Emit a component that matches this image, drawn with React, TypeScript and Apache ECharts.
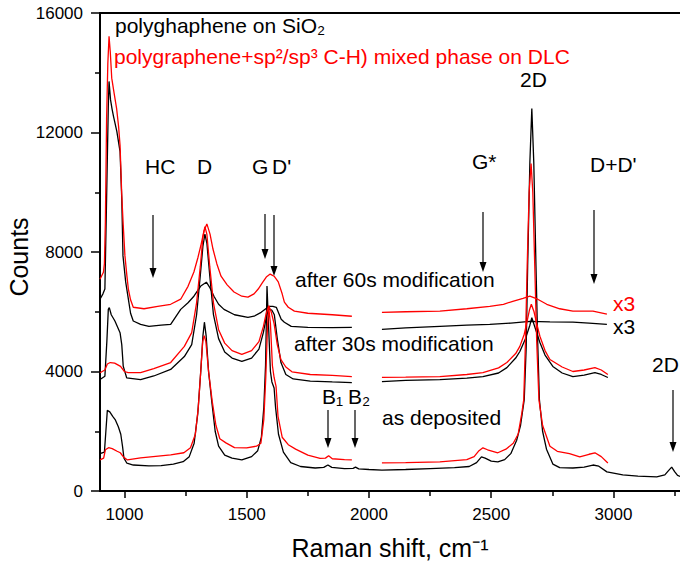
import React, { useEffect, useRef } from 'react';
import * as echarts from 'echarts';

const FONT = '"Liberation Sans", Arial, Helvetica, sans-serif';

const xTicks = [1000, 1500, 2000, 2500, 3000];
const xMinorTicks = [1250, 1750, 2250, 2750, 3250];
const yTicks = [0, 4000, 8000, 12000, 16000];

// as deposited, polygraphene on SiO2 (black, continuous)
const asDepBlack = [
  [900, 1250], [918, 1300], [924, 2000], [930, 2700], [940, 2650], [952, 2500], [962, 2390], [975, 2150],
  [985, 1900], [992, 1500], [998, 1100], [1010, 930], [1036, 870], [1100, 840], [1150, 850], [1200, 900],
  [1240, 980], [1265, 1150], [1285, 1600], [1300, 2600], [1312, 4000], [1321, 5200], [1327, 5650], [1334, 5200],
  [1344, 4000], [1357, 3000], [1371, 2000], [1385, 1500], [1410, 1200], [1440, 1100], [1480, 1040], [1520, 1150],
  [1545, 1350], [1560, 1800], [1570, 2800], [1577, 4200], [1583, 6860], [1590, 5400], [1597, 4000], [1603, 3650],
  [1612, 3450], [1618, 2800], [1630, 1900], [1650, 1300], [1680, 950], [1720, 820], [1780, 770], [1815, 790],
  [1832, 870], [1848, 790], [1900, 750], [1935, 760], [1945, 800], [1958, 740], [2000, 720], [2053, 700],
  [2150, 720], [2250, 750], [2350, 780], [2410, 820], [2440, 950], [2460, 1140], [2475, 1100], [2500, 1000],
  [2527, 975], [2555, 1050], [2580, 1250], [2604, 1700], [2620, 2200], [2635, 3060], [2643, 4800], [2649, 7530],
  [2658, 11000], [2666, 12800], [2674, 11000], [2683, 7530], [2690, 5000], [2697, 3060], [2710, 2000], [2726, 1400],
  [2752, 900], [2780, 780], [2834, 770], [2880, 800], [2916, 870], [2940, 830], [2973, 640], [3038, 540],
  [3100, 500], [3177, 470], [3210, 540], [3225, 680], [3238, 800], [3250, 650], [3262, 520], [3275, 480],
];

// as deposited, mixed phase on DLC (red)
const asDepRedLow = [
  [900, 1040], [915, 1100], [922, 1380], [935, 1450], [950, 1420], [970, 1330], [983, 1280], [995, 1150],
  [1012, 1040], [1066, 1110], [1189, 1210], [1243, 1280], [1270, 1450], [1290, 1900], [1302, 2800], [1312, 4000],
  [1320, 5000], [1326, 5200], [1333, 5000], [1344, 4000], [1359, 3000], [1374, 2200], [1390, 1750], [1415, 1610],
  [1450, 1450], [1500, 1445], [1540, 1500], [1558, 1600], [1570, 2400], [1578, 3800], [1585, 5500], [1590, 6150],
  [1597, 5600], [1605, 4200], [1612, 3800], [1620, 3500], [1628, 2500], [1645, 1800], [1670, 1550], [1700, 1400],
  [1750, 1200], [1800, 1090], [1822, 1100], [1835, 1180], [1850, 1080], [1900, 1050], [1930, 1040],
];
const asDepRedHigh = [
  [2053, 940], [2150, 950], [2290, 975], [2400, 1050], [2430, 1150], [2450, 1350], [2466, 1445], [2485, 1380],
  [2527, 1280], [2560, 1400], [2590, 1600], [2610, 1900], [2625, 2600], [2633, 3060], [2640, 5000], [2647, 7530],
  [2655, 10000], [2663, 10960], [2670, 10000], [2678, 7530], [2686, 5000], [2695, 3060], [2710, 2200], [2740, 1500],
  [2770, 1330], [2820, 1250], [2862, 1140], [2900, 1230], [2924, 1280], [2950, 1150], [2977, 940],
];

// after 30 s modification
const m30BlackLow = [
  [900, 3730], [920, 3840], [928, 5000], [934, 6080], [938, 6140], [946, 5900], [961, 5690], [982, 5300],
  [989, 4900], [995, 4180], [1009, 3790], [1066, 3730], [1120, 3850], [1189, 4070], [1245, 4500], [1275, 4900],
  [1295, 5900], [1310, 7200], [1321, 8200], [1329, 8600], [1337, 8300], [1349, 7200], [1364, 5900], [1385, 5100],
  [1410, 4650], [1440, 4450], [1480, 4340], [1520, 4450], [1550, 4750], [1568, 5300], [1582, 5900], [1592, 6100],
  [1603, 6050], [1613, 5900], [1625, 5100], [1640, 4300], [1660, 3900], [1690, 3750], [1760, 3680], [1850, 3650],
  [1930, 3630],
];
const m30BlackHigh = [
  [2053, 3660], [2150, 3700], [2290, 3730], [2400, 3780], [2466, 3830], [2530, 3950], [2564, 4130], [2600, 4450],
  [2617, 4670], [2640, 5100], [2658, 5550], [2666, 5800], [2680, 5450], [2699, 4970], [2720, 4550], [2752, 4170],
  [2790, 3950], [2834, 3830], [2880, 3880], [2924, 3960], [2950, 3900], [2977, 3800],
];
const m30RedLow = [
  [900, 3960], [920, 4050], [930, 4250], [942, 4300], [960, 4280], [984, 4170], [1000, 4000], [1015, 3960],
  [1066, 3960], [1120, 4100], [1189, 4300], [1245, 4840], [1275, 5300], [1295, 6300], [1310, 7500], [1321, 8500],
  [1329, 8850], [1337, 8600], [1349, 7500], [1364, 6300], [1385, 5400], [1410, 4950], [1440, 4700], [1480, 4570],
  [1520, 4700], [1550, 5000], [1568, 5500], [1580, 5950], [1590, 6200], [1600, 6000], [1612, 5600], [1625, 4900],
  [1640, 4400], [1660, 4150], [1685, 3990], [1760, 3900], [1850, 3870], [1930, 3830],
];
const m30RedHigh = [
  [2053, 3800], [2150, 3810], [2290, 3830], [2400, 3900], [2466, 3960], [2530, 4120], [2564, 4300], [2600, 4600],
  [2617, 4840], [2635, 5250], [2646, 5650], [2656, 6050], [2664, 6250], [2675, 6000], [2686, 5600], [2699, 5180],
  [2720, 4700], [2740, 4400], [2790, 4150], [2834, 4000], [2880, 4050], [2924, 4130], [2950, 4050], [2977, 3900],
];

// after 60 s modification
const m60BlackLow = [
  [900, 6420], [912, 6600], [920, 6760], [927, 9780], [934, 12900], [937, 13710], [943, 13100], [949, 12800],
  [955, 12550], [969, 12030], [982, 11360], [989, 9780], [994, 7870], [1005, 7000], [1016, 6420], [1025, 5950],
  [1036, 5690], [1066, 5580], [1100, 5510], [1150, 5550], [1189, 5580], [1230, 6080], [1260, 6300], [1284, 6520],
  [1312, 6860], [1335, 6990], [1350, 6800], [1366, 6520], [1385, 6250], [1407, 6080], [1450, 5900], [1505, 5815],
  [1530, 5850], [1559, 5980], [1578, 6100], [1592, 6180], [1607, 6180], [1621, 6150], [1641, 5750], [1654, 5650],
  [1682, 5510], [1750, 5480], [1850, 5470], [1930, 5480],
];
const m60BlackHigh = [
  [2053, 5410], [2150, 5460], [2290, 5510], [2400, 5550], [2494, 5580], [2580, 5620], [2658, 5680], [2740, 5660],
  [2834, 5650], [2900, 5620], [2973, 5580],
];
const m60RedLow = [
  [900, 7090], [914, 7320], [918, 7600], [922, 9000], [927, 12470], [932, 14300], [937, 15220], [942, 14700],
  [948, 13820], [958, 13300], [968, 12800], [976, 12200], [982, 11570], [989, 9900], [995, 8900], [1002, 7870],
  [1010, 7200], [1016, 6760], [1025, 6400], [1036, 6150], [1080, 6100], [1136, 6180], [1189, 6250], [1230, 6420],
  [1260, 6850], [1284, 7330], [1300, 7800], [1312, 8200], [1325, 8700], [1337, 8940], [1350, 8600], [1362, 8100],
  [1378, 7600], [1395, 7190], [1420, 6900], [1448, 6660], [1480, 6520], [1505, 6490], [1530, 6600], [1547, 6760],
  [1565, 6980], [1580, 7160], [1596, 7260], [1612, 7190], [1629, 7000], [1645, 6600], [1654, 6320], [1670, 6150],
  [1695, 6020], [1750, 5950], [1850, 5900], [1930, 5850],
];
const m60RedHigh = [
  [2053, 5980], [2150, 6000], [2290, 6020], [2400, 6100], [2494, 6180], [2550, 6250], [2588, 6350], [2630, 6450],
  [2658, 6520], [2690, 6420], [2727, 6250], [2780, 6100], [2834, 6020], [2916, 6020], [2973, 5920],
];

const GAP = [1990, '-'];

function withGap(low: any[], high: any[]) {
  return [...low, GAP, ...high];
}

function arrow(x: number, y1: number, tip: number) {
  return {
    type: 'group',
    silent: true,
    children: [
      { type: 'line', shape: { x1: x, y1, x2: x, y2: tip - 7 }, style: { stroke: '#000', lineWidth: 1.2 } },
      {
        type: 'polygon',
        shape: { points: [[x - 3.5, tip - 10], [x + 3.5, tip - 10], [x, tip]] },
        style: { fill: '#000' },
      },
    ],
  };
}

function label(text: string, x: number, y: number, color = '#000', size = 21, align = 'left', rotation = 0) {
  return {
    type: 'text',
    x,
    y,
    rotation,
    silent: true,
    style: {
      text,
      fill: color,
      fontSize: size,
      fontFamily: FONT,
      align,
      verticalAlign: 'middle',
      textAlign: align,
      textVerticalAlign: 'middle',
    },
  };
}

export default function App() {
  const ref = useRef<HTMLDivElement>(null);

  useEffect(() => {
    if (!ref.current) return;
    const chart = echarts.init(ref.current, undefined, { renderer: 'svg' });

    const lineSeries = (name: string, data: any[], color: string) => ({
      name,
      type: 'line',
      data,
      showSymbol: false,
      symbol: 'none',
      connectNulls: false,
      lineStyle: { color, width: 1.3 },
      itemStyle: { color },
      z: color === '#000' ? 2 : 3,
    });

    const xBase = { type: 'value', min: 900, max: 3272, gridIndex: 0 };
    const plain = (v: number) => String(v);

    chart.setOption({
      animation: false,
      backgroundColor: '#fff',
      grid: { left: 100, right: 0, top: 13, bottom: 72, containLabel: false, outerBoundsMode: 'none' },
      xAxis: [
        {
          ...xBase,
          position: 'bottom',
          name: 'Raman shift, cm\u207B\u00B9',
          nameLocation: 'middle',
          nameGap: 44,
          nameTextStyle: { fontSize: 25, color: '#000', fontFamily: FONT },
          axisLine: { show: true, lineStyle: { color: '#000', width: 2 } },
          axisTick: { show: true, inside: false, length: 7, customValues: xTicks, lineStyle: { color: '#000', width: 1.5 } },
          axisLabel: { show: true, customValues: xTicks, formatter: plain, fontSize: 17, color: '#000', fontFamily: FONT, margin: 15 },
          splitLine: { show: false },
        },
        {
          ...xBase,
          position: 'bottom',
          axisLine: { show: false },
          axisTick: { show: true, inside: false, length: 5, customValues: xMinorTicks, lineStyle: { color: '#000', width: 1.5 } },
          axisLabel: { show: false },
          splitLine: { show: false },
        },
        {
          ...xBase,
          position: 'top',
          axisLine: { show: true, lineStyle: { color: '#000', width: 2 } },
          axisTick: { show: false },
          axisLabel: { show: false },
          splitLine: { show: false },
        },
      ],
      yAxis: {
        type: 'value',
        min: yTicks[0],
        max: yTicks[yTicks.length - 1],
        interval: 4000,
        axisLine: { show: true, lineStyle: { color: '#000', width: 2 } },
        axisTick: { show: true, inside: false, length: 9, lineStyle: { color: '#000', width: 1.5 } },
        minorTick: { show: true, splitNumber: 2, length: 5, lineStyle: { color: '#000', width: 1.5 } },
        axisLabel: { formatter: plain, fontSize: 17, color: '#000', fontFamily: FONT, margin: 17 },
        splitLine: { show: false },
        minorSplitLine: { show: false },
      },
      series: [
        lineSeries('as deposited SiO2', asDepBlack, '#000'),
        lineSeries('after 30s SiO2', withGap(m30BlackLow, m30BlackHigh), '#000'),
        lineSeries('after 60s SiO2', withGap(m60BlackLow, m60BlackHigh), '#000'),
        lineSeries('as deposited DLC', withGap(asDepRedLow, asDepRedHigh), '#ff0000'),
        lineSeries('after 30s DLC', withGap(m30RedLow, m30RedHigh), '#ff0000'),
        lineSeries('after 60s DLC', withGap(m60RedLow, m60RedHigh), '#ff0000'),
      ],
      graphic: [
        label('Counts', 19, 257, '#000', 25, 'center', Math.PI / 2),
        label('polyghaphene on SiO\u2082', 115, 25),
        label('polygraphene+sp\u00B2/sp\u00B3 C-H) mixed phase on DLC', 114, 56, '#ff0000'),
        label('HC', 145, 166),
        label('D', 197, 166),
        label('G', 252, 166),
        label("D'", 272, 166),
        label('G*', 472, 161),
        label("D+D'", 590, 164),
        label('2D', 520, 79),
        label('after 60s modification', 295, 279),
        label('after 30s modification', 294, 343),
        label('as deposited', 382, 417),
        label('x3', 613, 303, '#ff0000'),
        label('x3', 613, 326),
        label('2D', 652, 364),
        label('B\u2081', 322, 396),
        label('B\u2082', 348, 396),
        arrow(153, 215, 278),
        arrow(265, 214, 259),
        arrow(274, 215, 276),
        arrow(483, 212, 272),
        arrow(594, 210, 284),
        arrow(328, 410, 448),
        arrow(355, 410, 448),
        arrow(673, 390, 452),
      ],
    });

    return () => chart.dispose();
  }, []);

  return <div ref={ref} style={{ position: 'fixed', left: 0, top: 0, width: 680, height: 563 }} />;
}
